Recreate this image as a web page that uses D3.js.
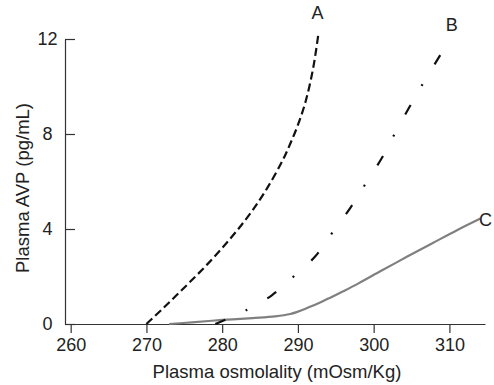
<!DOCTYPE html>
<html>
<head>
<meta charset="utf-8">
<script src="https://cdn.jsdelivr.net/npm/d3@7"></script>
<style>
  body { margin: 0; background: #fff; }
  svg { display: block; font-family: "Liberation Sans", Arial, sans-serif; }
  .axis text { font-size: 18px; fill: #222; }
  .axis path, .axis line { stroke: #333; stroke-width: 1.2; }
</style>
</head>
<body>
<div id="chart"></div>
<script>
// tick values
const xTicks = [260, 270, 280, 290, 300, 310];
const yTicks = [0, 4, 8, 12];

// curve A: normal response (dashed)
const curveA = [
  [270, 0], [272, 0.6], [274, 1.22], [276, 1.85], [278, 2.5], [280, 3.2],
  [282, 3.95], [284, 4.78], [286, 5.75], [288, 6.9], [289, 7.6], [290, 8.38],
  [291, 9.35], [292, 10.75], [292.7, 12.2]
];
// curve B: dash-dot
const curveB = [
  [279.1, 0], [283.3, 0.6], [286.6, 1.22], [289.5, 2.02], [292.3, 2.85],
  [294.6, 3.87], [296.9, 4.88], [299, 5.94], [301.1, 7.0], [302.9, 8.08],
  [304.8, 9.18], [306.7, 10.23], [308.8, 11.33], [309.2, 11.55]
];
// curve C: grey solid
const curveC = [
  [273, 0], [276, 0.07], [280, 0.17], [284, 0.25], [287, 0.32], [289, 0.42],
  [290, 0.52], [291, 0.64], [292, 0.78], [293, 0.92], [294, 1.07], [295, 1.22],
  [296, 1.38], [298, 1.71], [301, 2.24], [304.5, 2.85], [307.8, 3.41],
  [311, 3.95], [314.1, 4.44]
];
const labels = [
  { name: "A", at: [292.6, 12.6], anchor: "middle" },
  { name: "B", at: [310.3, 12.1], anchor: "middle" },
  { name: "C", at: [313.9, 4.4], anchor: "start" }
];

const W = 494, H = 385;

var x = d3.scaleLinear().domain([259.25, 314.7]).range([65, 485]);
var y = d3.scaleLinear().domain([0, 12]).range([324, 39]);

var svg = d3.select("#chart").append("svg")
  .attr("width", W).attr("height", H)
  .attr("viewBox", `0 0 ${W} ${H}`);

// x axis
var gx = svg.append("g")
  .attr("class", "axis")
  .attr("transform", "translate(0," + y(0) + ")")
  .call(d3.axisBottom(x).tickValues(xTicks).tickSize(9).tickSizeOuter(0).tickPadding(5));

// y axis, ticks pointing inward
var gy = svg.append("g")
  .attr("class", "axis")
  .attr("transform", "translate(" + x.range()[0] + ",0)")
  .call(d3.axisLeft(y).tickValues(yTicks).tickSize(-10).tickSizeOuter(0));
gy.selectAll(".tick text")
  .attr("text-anchor", "middle")
  .attr("x", -17.5);

// axis titles
svg.append("text")
  .attr("x", 277).attr("y", 378)
  .attr("text-anchor", "middle")
  .style("font-size", "18.5px").style("fill", "#222")
  .text("Plasma osmolality (mOsm/Kg)");

svg.append("text")
  .attr("transform", "translate(29,188) rotate(-90)")
  .attr("text-anchor", "middle")
  .style("font-size", "18.5px").style("fill", "#222")
  .text("Plasma AVP (pg/mL)");

var line = d3.line()
  .x(d => x(d[0]))
  .y(d => y(d[1]))
  .curve(d3.curveCatmullRom.alpha(0.5));

svg.append("path")
  .datum(curveC)
  .attr("d", line)
  .attr("fill", "none")
  .attr("stroke", "#808080")
  .attr("stroke-width", 2.2);

svg.append("path")
  .datum(curveB)
  .attr("d", line)
  .attr("fill", "none")
  .attr("stroke", "#111")
  .attr("stroke-width", 2.2)
  .attr("stroke-dasharray", "11,22,2,23");

svg.append("path")
  .datum(curveA)
  .attr("d", line)
  .attr("fill", "none")
  .attr("stroke", "#111")
  .attr("stroke-width", 2.2)
  .attr("stroke-dasharray", "8,4");

svg.selectAll(".curve-label")
  .data(labels)
  .enter().append("text")
  .attr("class", "curve-label")
  .attr("x", d => x(d.at[0]))
  .attr("y", d => y(d.at[1]) - (d.name == "C" ? -6 : 6))
  .attr("text-anchor", d => d.anchor)
  .style("font-size", "18px").style("fill", "#222")
  .text(d => d.name);
</script>
</body>
</html>
